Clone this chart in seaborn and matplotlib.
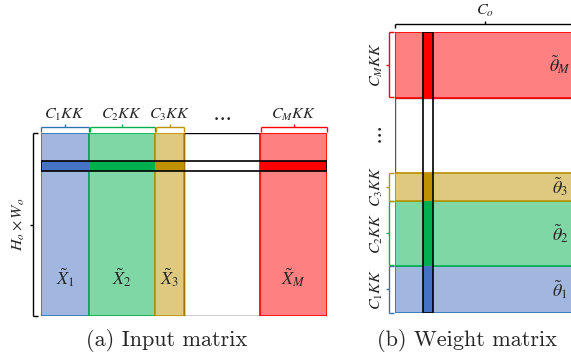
import numpy as np
import matplotlib
matplotlib.use("Agg")
import matplotlib.pyplot as plt
import seaborn as sns

# block widths C_i*K*K, plus the "..." gap between block 3 and M
block_names = ["1", "2", "3", "M"]
block_sizes = [48, 66, 29, 67]
gap_size = 76

light_colors = ["#A2B7E0", "#80D7A6", "#DFC880", "#FF8080"]
dark_colors = ["#4472C4", "#00B050", "#BF9000", "#FF0000"]
edge_colors = ["#2E75B6", "#00B050", "#BF9000", "#FF0000"]

n_rows = 183      # H_o x W_o
row_pick = 145    # highlighted row of the input matrix
row_h = 10
c_out = 180       # C_o
col_pick = 28     # highlighted column of the weight matrix
col_w = 10

sns.set_theme(style="white")
plt.rcParams["mathtext.fontset"] = "stix"

sizes_all = block_sizes[:3] + [gap_size] + block_sizes[3:]
starts_all = np.concatenate([[0], np.cumsum(sizes_all)[:-1]])
total = sum(sizes_all)
gap_start = starts_all[3]
starts = [starts_all[i] for i in (0, 1, 2, 4)]


def hbrace(ax, x0, x1, y, down, up, color, lw=1.0):
    xm = (x0 + x1) / 2
    kw = dict(color=color, lw=lw, clip_on=False, solid_capstyle="butt")
    ax.plot([x0, x1], [y, y], **kw)
    ax.plot([x0, x0], [y, y - down], **kw)
    ax.plot([x1, x1], [y, y - down], **kw)
    ax.plot([xm, xm], [y, y + up], **kw)


def vbrace(ax, y0, y1, x, right, left, color, lw=1.0):
    ym = (y0 + y1) / 2
    kw = dict(color=color, lw=lw, clip_on=False, solid_capstyle="butt")
    ax.plot([x, x], [y0, y1], **kw)
    ax.plot([x, x + right], [y0, y0], **kw)
    ax.plot([x, x + right], [y1, y1], **kw)
    ax.plot([x, x - left], [ym, ym], **kw)


W, H = 571, 354
fig = plt.figure(figsize=(W / 100, H / 100), dpi=100)

# (a) input matrix
ax = fig.add_axes([41 / W, 38 / H, total / W, n_rows / H])
ax.set_xlim(0, total)
ax.set_ylim(0, n_rows)
ax.axis("off")

ax.bar(gap_start, n_rows, width=gap_size, align="edge", color="white",
       edgecolor="black", lw=1)
ax.bar(starts, [n_rows] * 4, width=block_sizes, align="edge",
       color=light_colors, edgecolor=edge_colors, lw=1.2)
ax.bar(starts, [row_h] * 4, width=block_sizes, bottom=row_pick, align="edge",
       color=dark_colors, lw=0)
ax.bar(0, row_h, width=total, bottom=row_pick, align="edge", fill=False,
       edgecolor="black", lw=1.2)

for s, w, name, ec in zip(starts, block_sizes, block_names, edge_colors):
    hbrace(ax, s + 0.5, s + w - 0.5, n_rows + 6, 5, 3, ec)
    ax.text(s + w / 2, n_rows + 18, f"$C_{{{name}}}KK$", ha="center",
            va="center", fontsize=11.5)
    ax.text(s + w / 2, 38, f"$\\tilde{{X}}_{{{name}}}$", ha="center",
            va="center", fontsize=13)
ax.text(gap_start + gap_size / 2, n_rows + 17, "$\\cdots$", ha="center",
        va="center", fontsize=15)

vbrace(ax, 0, n_rows, -8, 5, 3, "black")
ax.text(-22, n_rows / 2, "$H_o\\times W_o$", ha="center", va="center",
        rotation=90, fontsize=11.5)

# (b) weight matrix
ax2 = fig.add_axes([395 / W, 41 / H, c_out / W, 281 / H])
ax2.set_xlim(0, c_out)
ax2.set_ylim(0, total)
ax2.axis("off")
sy = 281 / total

ax2.barh(gap_start, c_out, height=gap_size, align="edge", color="white",
         edgecolor="#555555", lw=1)
ax2.barh(starts, [c_out] * 4, height=block_sizes, align="edge",
         color=light_colors, edgecolor=edge_colors, lw=1.2)
ax2.barh(starts, [col_w] * 4, height=block_sizes, left=col_pick, align="edge",
         color=dark_colors, lw=0)
ax2.barh(0, col_w, height=total, left=col_pick, align="edge", fill=False,
         edgecolor="black", lw=1.2)

for s, h, name, ec in zip(starts, block_sizes, block_names, edge_colors):
    vbrace(ax2, s + 0.5, s + h - 0.5, -6, 5, 3, ec)
    ax2.text(-18, s + h / 2, f"$C_{{{name}}}KK$", ha="center", va="center",
             rotation=90, fontsize=11.5)
    ax2.text(165, s + h / 2, f"$\\tilde{{\\theta}}_{{{name}}}$", ha="center",
             va="center", fontsize=13)
ax2.text(-17, gap_start + gap_size / 2, "$\\cdots$", ha="center", va="center",
         rotation=90, fontsize=15)

hbrace(ax2, 0, c_out, total + 8 / sy, 4 / sy, 3 / sy, "black")
ax2.text(c_out / 2, total + 21 / sy, "$C_o$", ha="center", va="center",
         fontsize=11.5)

fig.text(167 / W, 1 - 340 / H, "(a) Input matrix", ha="center", va="center",
         fontfamily="cmr10", fontsize=16)
fig.text(467 / W, 1 - 340 / H, "(b) Weight matrix", ha="center", va="center",
         fontfamily="cmr10", fontsize=16)

fig.savefig("out.png", dpi=100)
